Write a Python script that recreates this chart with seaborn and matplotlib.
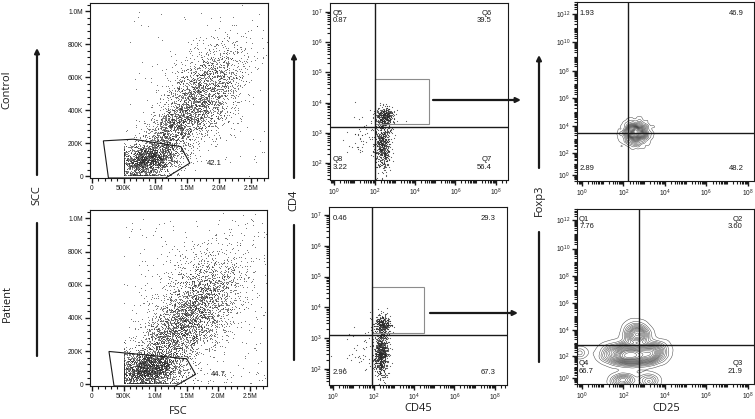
import numpy as np
import pandas as pd
import matplotlib
matplotlib.use("Agg")
import matplotlib.pyplot as plt
import seaborn as sns
from matplotlib.ticker import FixedLocator, FixedFormatter, AutoMinorLocator, NullFormatter
from matplotlib.patches import Polygon, Rectangle, FancyArrowPatch

sns.set_theme(style="ticks")
INK = "#1a1a1a"
DOT = "#2a2a2a"
plt.rcParams.update({
    'font.family': ['Liberation Sans', 'DejaVu Sans'],
    'mathtext.default': 'regular',
    'xtick.direction': 'out', 'ytick.direction': 'out',
    'xtick.major.size': 3.5, 'ytick.major.size': 3.5,
    'xtick.major.width': 1.0, 'ytick.major.width': 1.0,
    'xtick.minor.size': 2.2, 'ytick.minor.size': 2.2,
    'xtick.minor.width': 0.8, 'ytick.minor.width': 0.8,
    'xtick.color': INK, 'ytick.color': INK,
    'xtick.labelsize': 4.8, 'ytick.labelsize': 4.8,
    'xtick.major.pad': 1.5, 'ytick.major.pad': 1.5,
    'xtick.bottom': True, 'ytick.left': True,
    'xtick.top': False, 'ytick.right': False,
})

# ------------------------------------------------------------------ data
row_names = ["Control", "Patient"]

# FSC / SSC axes
fsc_ticks = [0, 0.5e6, 1.0e6, 1.5e6, 2.0e6, 2.5e6]
fsc_ticklabels = ["0", "500K", "1.0M", "1.5M", "2.0M", "2.5M"]
ssc_ticks = [0, 2e5, 4e5, 6e5, 8e5, 1e6]
ssc_ticklabels = ["0", "200K", "400K", "600K", "800K", "1.0M"]

# FSC/SSC populations (millions): centre FSC, centre SSC, sd FSC, sd SSC, corr, count
ctrl_fsc_pops = [(0.88, 0.10, 0.24, 0.055, 0.25, 1900),
                 (1.75, 0.50, 0.32, 0.150, 0.50, 2300),
                 (1.25, 0.28, 0.25, 0.090, 0.55, 900)]
ctrl_fsc_outliers = 130
pat_fsc_pops = [(0.88, 0.09, 0.26, 0.055, 0.20, 2200),
                (1.65, 0.47, 0.36, 0.170, 0.45, 2600),
                (1.20, 0.26, 0.27, 0.100, 0.50, 1000)]
pat_fsc_outliers = 320

# lymphocyte gates (FSC, SSC in millions) and their percentages
ctrl_gate_fsc = [0.18, 0.65, 1.40, 1.54, 1.16, 0.26]
ctrl_gate_ssc = [0.215, 0.225, 0.18, 0.08, -0.01, -0.01]
pat_gate_fsc = [0.27, 1.50, 1.64, 1.32, 0.35]
pat_gate_ssc = [0.198, 0.154, 0.06, -0.01, -0.01]
gate_pcts = ["42.1", "44.7"]
gate_label_pos = [(1.92, 0.08), (2.00, 0.06)]

# CD45 / CD4 populations (log10): centre x, centre y, sd x, sd y, count
ctrl_cd4_pops = [(2.40, 2.60, 0.20, 0.45, 560),
                 (2.50, 3.55, 0.22, 0.16, 380),
                 (1.40, 2.90, 0.40, 0.40, 50)]
pat_cd4_pops = [(2.38, 2.50, 0.18, 0.40, 700),
                (2.45, 3.45, 0.22, 0.15, 300),
                (1.30, 2.60, 0.45, 0.40, 45)]
ctrl_cd4_split = (2.0, 3.21)          # log10 quadrant split CD45, CD4
pat_cd4_split = (1.95, 3.11)
ctrl_cd4_box = (2.0, 4.7, 3.31, 4.78)  # log10 x0, x1, y0, y1
pat_cd4_box = (1.95, 4.5, 3.16, 4.65)
log_ticks_x = [0, 2, 4, 6, 8]
log_ticks_cd4 = [2, 3, 4, 5, 6, 7]
log_ticks_fox = [0, 2, 4, 6, 8, 10, 12]

# CD25 / Foxp3 populations (log10): centre x, centre y, sd x, sd y, count
ctrl_fox_pops = [(2.60, 3.45, 0.30, 0.42, 1500)]
pat_fox_pops = [(2.35, 2.10, 0.62, 0.42, 2000),
                (2.65, 3.70, 0.27, 0.38, 500),
                (3.45, 2.30, 0.32, 0.38, 450),
                (1.95, -0.25, 0.30, 0.32, 280),
                (3.20, -0.25, 0.24, 0.32, 170),
                (-0.10, 2.25, 0.10, 0.15, 40)]
ctrl_fox_split = (2.2, 3.47)
pat_fox_split = (2.73, 2.87)

# quadrant annotations: UL, UR, LR, LL
ctrl_cd4_q = (["Q5", "Q6", "Q7", "Q8"], ["0.87", "39.5", "56.4", "3.22"])
pat_cd4_q = (["", "", "", ""], ["0.46", "29.3", "67.3", "2.96"])
ctrl_fox_q = (["", "", "", ""], ["1.93", "46.9", "48.2", "2.89"])
pat_fox_q = (["Q1", "Q2", "Q3", "Q4"], ["7.76", "3.60", "21.9", "66.7"])

# Foxp3 display scale (decade -> axis fraction)
fox_dec = [-12, 0, 2, 4, 6, 8, 10, 12, 24]
fox_pos = [-0.71, 0.034, 0.158, 0.308, 0.4635, 0.616, 0.774, 0.935, 1.895]

rng = np.random.default_rng(11)


def gaussian_pops(pops, corr_given=True):
    out = []
    for p in pops:
        if corr_given:
            cx, cy, sx, sy, r, n = p
        else:
            cx, cy, sx, sy, n = p
            r = 0.0
        cov = [[sx * sx, r * sx * sy], [r * sx * sy, sy * sy]]
        out.append(rng.multivariate_normal([cx, cy], cov, n))
    return np.vstack(out)


def fsc_frame(pops, n_out):
    pts = gaussian_pops(pops)
    pts[:, 0] = np.clip(pts[:, 0], 0.5, None)
    pts[:, 1] = np.clip(pts[:, 1], 0.01, None)
    outl = np.column_stack([rng.uniform(0.5, 2.75, n_out), rng.uniform(0.0, 1.0, n_out)])
    pts = np.vstack([pts, outl]) * 1e6
    return pd.DataFrame({"FSC": pts[:, 0], "SSC": pts[:, 1]})


def log_frame(pops, xname, yname):
    pts = gaussian_pops(pops, corr_given=False)
    return pd.DataFrame({xname: 10 ** pts[:, 0], yname: 10 ** pts[:, 1]})


# ------------------------------------------------------------------ figure
W, H = 755, 419
fig = plt.figure(figsize=(W / 100, H / 100), dpi=100)


def box(l, t, r, b):
    return [l / W, 1 - b / H, (r - l) / W, (b - t) / H]


ax_tl = fig.add_axes(box(90, 3, 268, 178))
ax_bl = fig.add_axes(box(90, 210, 267, 386))
ax_tm = fig.add_axes(box(330, 3, 508, 180))
ax_bm = fig.add_axes(box(329, 207, 507, 385))
ax_tr = fig.add_axes(box(577, 2, 754, 181))
ax_br = fig.add_axes(box(577, 209, 754, 384))


def style(ax):
    for s in ax.spines.values():
        s.set_color(INK)
        s.set_linewidth(0.8)
    ax.set_xlabel("")
    ax.set_ylabel("")


def quad_text(ax, q, xl, xr):
    names, pcts = q
    kw = dict(transform=ax.transAxes, fontsize=5.5, color=INK, va="center")
    for i, (x, ha) in enumerate([(xl, "left"), (xr, "right")]):
        if names[i]:
            ax.text(x, 0.94, names[i], ha=ha, **kw)
            ax.text(x, 0.90, pcts[i], ha=ha, **kw)
        else:
            ax.text(x, 0.935, pcts[i], ha=ha, **kw)
    for i, (x, ha) in zip([2, 3], [(xr, "right"), (xl, "left")]):
        if names[i]:
            ax.text(x, 0.115, names[i], ha=ha, **kw)
        ax.text(x, 0.072, pcts[i], ha=ha, **kw)


# ---- FSC / SSC panels
for ax, pops, nout, gx, gy, pct, lp in [
        (ax_tl, ctrl_fsc_pops, ctrl_fsc_outliers, ctrl_gate_fsc, ctrl_gate_ssc, gate_pcts[0], gate_label_pos[0]),
        (ax_bl, pat_fsc_pops, pat_fsc_outliers, pat_gate_fsc, pat_gate_ssc, gate_pcts[1], gate_label_pos[1])]:
    df = fsc_frame(pops, nout)
    sns.scatterplot(data=df, x="FSC", y="SSC", s=0.55, color=DOT, linewidth=0,
                    alpha=0.75, ax=ax, legend=False)
    ax.add_patch(Polygon(np.column_stack([gx, gy]) * 1e6, closed=True, fill=False,
                         ec=INK, lw=0.8))
    ax.text(lp[0] * 1e6, lp[1] * 1e6, pct, fontsize=5.5,
            ha="center", va="center", color=INK)
    ax.set_xlim(-0.03e6, 2.77e6)
    ax.set_ylim(-0.01e6, 1.05e6)
    ax.xaxis.set_major_locator(FixedLocator(fsc_ticks))
    ax.xaxis.set_major_formatter(FixedFormatter(fsc_ticklabels))
    ax.yaxis.set_major_locator(FixedLocator(ssc_ticks))
    ax.yaxis.set_major_formatter(FixedFormatter(ssc_ticklabels))
    ax.xaxis.set_minor_locator(AutoMinorLocator(5))
    ax.yaxis.set_minor_locator(AutoMinorLocator(5))
    style(ax)


def log_axis(axis, decs):
    majors = [10.0 ** d for d in decs]
    axis.set_major_locator(FixedLocator(majors))
    axis.set_major_formatter(FixedFormatter([r"$10^{%d}$" % d for d in decs]))
    minors = [m * 10.0 ** k for k in range(-2, 15) for m in range(1, 10)]
    minors = [v for v in minors if not any(abs(v / M - 1) < 1e-9 for M in majors)]
    axis.set_minor_locator(FixedLocator(minors))
    axis.set_minor_formatter(NullFormatter())


# ---- CD45 / CD4 panels
for ax, pops, split, bx, q, xl, xr, ylim in [
        (ax_tm, ctrl_cd4_pops, ctrl_cd4_split, ctrl_cd4_box, ctrl_cd4_q, 0.017, 0.91, (1.44, 7.3)),
        (ax_bm, pat_cd4_pops, pat_cd4_split, pat_cd4_box, pat_cd4_q, 0.02, 0.933, (1.48, 7.26))]:
    df = log_frame(pops, "CD45", "CD4")
    sns.scatterplot(data=df, x="CD45", y="CD4", s=0.7, color=DOT, linewidth=0,
                    alpha=0.8, ax=ax, legend=False)
    ax.set_xscale("log")
    ax.set_yscale("log")
    ax.set_xlim(10 ** -0.2, 10 ** 8.6)
    ax.set_ylim(10 ** ylim[0], 10 ** ylim[1])
    ax.axvline(10 ** split[0], color=INK, lw=1.0)
    ax.axhline(10 ** split[1], color=INK, lw=1.0)
    ax.add_patch(Rectangle((10 ** bx[0], 10 ** bx[2]), 10 ** bx[1] - 10 ** bx[0],
                           10 ** bx[3] - 10 ** bx[2], fill=False, ec="#8c8c8c", lw=0.8))
    log_axis(ax.xaxis, log_ticks_x)
    log_axis(ax.yaxis, log_ticks_cd4)
    quad_text(ax, q, xl, xr)
    style(ax)


def fox_fwd(v):
    v = np.asarray(v, dtype=float)
    d = np.log10(np.clip(v, 1e-12, None))
    return np.interp(d, fox_dec, fox_pos)


def fox_inv(p):
    p = np.asarray(p, dtype=float)
    return 10.0 ** np.interp(p, fox_pos, fox_dec)


# ---- CD25 / Foxp3 panels
for ax, pops, split, q, xl, xr in [
        (ax_tr, ctrl_fox_pops, ctrl_fox_split, ctrl_fox_q, 0.012, 0.94),
        (ax_br, pat_fox_pops, pat_fox_split, pat_fox_q, 0.012, 0.935)]:
    df = log_frame(pops, "CD25", "Foxp3")
    sns.kdeplot(data=df, x="CD25", y="Foxp3", log_scale=True, levels=20, thresh=0.02,
                color="#3a3a3a", linewidths=0.33, bw_adjust=0.85, ax=ax)
    ax.set_yscale("function", functions=(fox_fwd, fox_inv))
    ax.set_xlim(10 ** -0.24, 10 ** 8.3)
    ax.set_ylim(float(fox_inv(0.0)), float(fox_inv(1.0)))
    ax.axvline(10 ** split[0], color=INK, lw=1.0)
    ax.axhline(10 ** split[1], color=INK, lw=1.0)
    log_axis(ax.xaxis, log_ticks_x)
    log_axis(ax.yaxis, log_ticks_fox)
    quad_text(ax, q, xl, xr)
    style(ax)


# ---- figure annotations (arrows, row and axis titles)
def P(x, y):
    return (x / W, 1 - y / H)


def arrow(p0, p1, head=True):
    fig.add_artist(FancyArrowPatch(P(*p0), P(*p1), transform=fig.transFigure,
                                   arrowstyle="-|>" if head else "-", mutation_scale=7,
                                   lw=1.6, color=INK, shrinkA=0, shrinkB=0))


arrow((37, 175), (37, 48))
arrow((37, 223), (37, 356), head=False)
arrow((294, 178), (294, 53))
arrow((294, 225), (294, 360), head=False)
arrow((539, 168), (539, 55))
arrow((539, 232), (539, 362), head=False)
arrow((433, 100), (521, 100))
arrow((430, 313), (518, 313))

tkw = dict(fontsize=8, color=INK, ha="center", va="center", family=["Open Sans", "DejaVu Sans"])
fig.text(*P(7, 90), row_names[0], rotation=90, **tkw)
fig.text(*P(7, 303), row_names[1], rotation=90, **tkw)
fig.text(*P(37, 195), "SCC", rotation=90, **tkw)
fig.text(*P(294, 200), "CD4", rotation=90, **tkw)
fig.text(*P(539, 200), "Foxp3", rotation=90, **tkw)
fig.text(*P(178, 411), "FSC", **tkw)
fig.text(*P(418, 408), "CD45", **tkw)
fig.text(*P(666, 408), "CD25", **tkw)

fig.savefig("out.png", dpi=100)
